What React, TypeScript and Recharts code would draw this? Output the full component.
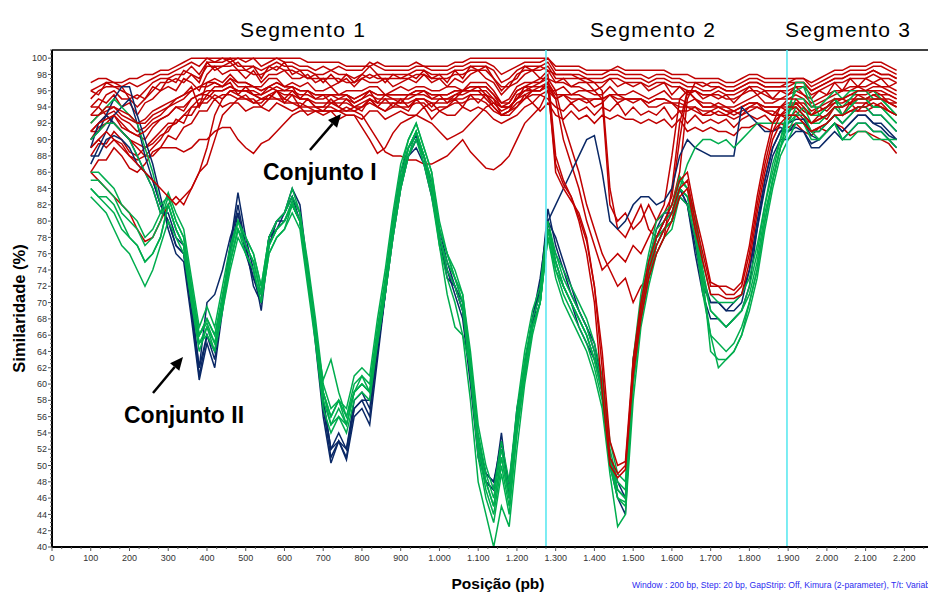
import React from 'react';
import { LineChart, Line, XAxis, YAxis, ReferenceLine } from 'recharts';

// Sequence positions (bp), window step 20
const POS = [
  100, 120, 140, 160, 180, 200, 220, 240, 260, 280,
  300, 320, 340, 360, 380, 400, 420, 440, 460, 480,
  500, 520, 540, 560, 580, 600, 620, 640, 660, 680,
  700, 720, 740, 760, 780, 800, 820, 840, 860, 880,
  900, 920, 940, 960, 980, 1000, 1020, 1040, 1060, 1080,
  1100, 1120, 1140, 1160, 1180, 1200, 1220, 1240, 1260, 1280,
  1300, 1320, 1340, 1360, 1380, 1400, 1420, 1440, 1460, 1480,
  1500, 1520, 1540, 1560, 1580, 1600, 1620, 1640, 1660, 1680,
  1700, 1720, 1740, 1760, 1780, 1800, 1820, 1840, 1860, 1880,
  1900, 1920, 1940, 1960, 1980, 2000, 2020, 2040, 2060, 2080,
  2100, 2120, 2140, 2160, 2180,
];

// ---- Conjunto I (red) ----
const R1 = [
  97, 97.5, 97.5, 97, 97, 97.5, 97.5, 98, 98, 98.5,
  98.5, 99, 99.5, 100, 100, 100, 100, 100, 100, 100,
  100, 100, 100, 100, 100, 100, 100, 100, 99.5, 99.5,
  99.5, 99.5, 99.5, 99, 99, 99, 99, 99.5, 99, 99,
  99, 99, 99.5, 99, 99, 99, 99, 99.5, 99.5, 100,
  100, 100, 100, 100, 100, 100, 100, 100, 100, 100,
  99, 99, 99, 99, 98.5, 98.5, 98.5, 98.5, 99, 98.5,
  98.5, 98.5, 98.5, 98.5, 98.5, 98, 98, 98, 97.5, 97.5,
  97.5, 97.5, 97, 97, 97.5, 98, 98, 97.5, 97.5, 97.5,
  97.5, 97.5, 97.5, 97, 97.5, 98, 98.5, 98.5, 99, 99,
  99, 99.5, 99.5, 99, 98.5,
];
const R2 = [
  95, 96, 96.5, 96.5, 96, 95.5, 95, 96, 97, 97.5,
  97.5, 98, 98, 99, 98, 99.5, 99.5, 99.5, 100, 99,
  99, 99, 98.5, 99, 99.5, 99, 99, 98.5, 98.5, 98,
  98, 98.5, 98, 98, 97.5, 98, 99, 98, 98, 98,
  98, 98, 98.5, 98.5, 98, 98, 98, 98.5, 98.5, 99,
  99, 99, 98.5, 97, 97.5, 98.5, 99, 99, 99, 99.5,
  98, 98, 98, 98, 97.5, 97.5, 97.5, 98, 98, 97.5,
  97.5, 97.5, 97, 97.5, 97.5, 97, 97, 96.5, 96.5, 96,
  96, 96.5, 96, 96, 96.5, 97, 97, 96.5, 96.5, 96.5,
  96.5, 97, 97, 96, 96.5, 97, 97.5, 97.5, 98, 98,
  98, 98.5, 98, 98, 97.5,
];
const R3 = [
  94, 95, 94.5, 95.5, 94, 94.5, 93, 94.5, 95, 96,
  96.5, 96, 97.5, 97, 96, 98, 99, 98, 98.5, 98.5,
  97.5, 98.5, 97, 98, 98, 98.5, 97.5, 97.5, 98, 97,
  97.5, 96.5, 97, 97.5, 96.5, 97.5, 97, 97, 97.5, 96.5,
  97, 97.5, 97, 98, 97, 97.5, 96.5, 97.5, 97, 98,
  98.5, 97.5, 97, 95.5, 96.5, 97, 98, 98.5, 97.5, 98.5,
  97, 97.5, 96.5, 97, 97, 96, 96.5, 97.5, 96.5, 97,
  96.5, 97, 96, 96.5, 97, 95.5, 96.5, 95.5, 96, 95,
  95.5, 95, 95.5, 94.5, 95.5, 96.5, 95.5, 96, 95, 96,
  95.5, 96.5, 95.5, 95, 96, 95.5, 97, 96, 97.5, 96.5,
  97.5, 97, 97.5, 96.5, 97,
];
const R4 = [
  92, 93, 93.5, 94, 93, 92.5, 92, 92.5, 93.5, 94,
  94.5, 95, 95.5, 96.5, 94, 97, 97.5, 97, 98, 97,
  97, 96.5, 96.5, 97.5, 97.5, 96.5, 97, 96.5, 97, 96,
  96, 96.5, 95.5, 96, 96, 96, 96.5, 96.5, 95.5, 96,
  96.5, 96, 96.5, 96.5, 96, 96, 96.5, 96.5, 96, 97,
  97, 97, 96, 94.5, 95, 96.5, 97, 97, 97.5, 97.5,
  96, 96.5, 95.5, 96, 96, 95.5, 95.5, 96.5, 95.5, 95.5,
  96, 95.5, 95, 95.5, 96, 95, 95, 94.5, 95, 94,
  94, 94.5, 94, 94, 94.5, 95, 95.5, 94.5, 94.5, 95,
  95, 95.5, 95, 94, 94.5, 95, 95.5, 96, 96, 96.5,
  96, 96.5, 96.5, 96, 95.5,
];
const R5 = [
  90, 91.5, 92, 93, 91.5, 91, 90.5, 90, 91.5, 92.5,
  93, 94, 93.5, 95, 95.5, 95.5, 96.5, 96.5, 97, 95.5,
  96.5, 95.5, 95.5, 96.5, 96, 96, 96.5, 95, 96, 95,
  95.5, 94.5, 95, 95.5, 94.5, 95, 96, 94.5, 95.5, 95,
  94.5, 95.5, 95.5, 96, 95, 95.5, 94.5, 95.5, 96, 96,
  96.5, 95.5, 95, 94, 94, 95, 96.5, 96, 96.5, 96.5,
  95, 95.5, 94.5, 95, 95, 94, 94.5, 95.5, 94.5, 95,
  94.5, 95, 94, 94, 94.5, 94.5, 93.5, 93.5, 94, 93,
  93.5, 93, 93, 93.5, 93, 94, 94.5, 93.5, 93, 94,
  93.5, 94.5, 93.5, 93, 94, 93.5, 94.5, 95, 94.5, 95.5,
  95, 95.5, 95.5, 94.5, 94.5,
];
const R6 = [
  88, 89.5, 89.5, 91, 90, 88.5, 88, 89, 89.5, 90.5,
  91, 92.5, 92, 94, 94, 95.5, 95, 95.5, 95.5, 95,
  95.5, 94.5, 95, 95, 96, 94.5, 95.5, 94, 95, 94,
  93.5, 94.5, 94, 93.5, 94, 93.5, 95, 94, 93.5, 94.5,
  94, 93.5, 95, 94, 94.5, 93.5, 94, 95, 94, 95.5,
  94.5, 95.5, 94, 93, 93.5, 94, 95.5, 94.5, 95.5, 95,
  94, 93.5, 94.5, 93.5, 94, 93, 94, 93.5, 94.5, 93,
  94, 93, 93.5, 93, 94, 92.5, 93.5, 92, 93, 92,
  92.5, 92, 92.5, 91.5, 92.5, 93, 92.5, 93, 92, 93,
  92.5, 93.5, 92.5, 92, 93, 92.5, 94, 93, 94.5, 93.5,
  94.5, 94, 94.5, 93.5, 93,
];
const R7 = [
  86, 87.5, 87.5, 89, 88, 86.5, 86, 87, 88.5, 89,
  90.5, 90, 91.5, 92, 93.5, 93.5, 95, 94, 94.5, 94.5,
  93.5, 94, 94, 93.5, 94.5, 94, 93.5, 94, 93, 93.5,
  93, 93.5, 92.5, 93, 93, 92.5, 93.5, 93.5, 92.5, 93,
  93.5, 93, 93, 94, 92.5, 93.5, 93, 93, 94, 93.5,
  94, 93.5, 92.5, 92, 92.5, 93, 94, 94.5, 93.5, 94.5,
  93, 92.5, 93.5, 92.5, 93, 92, 93, 92.5, 93, 92.5,
  92.5, 92, 92.5, 92, 92.5, 91.5, 92.5, 91, 91.5, 91,
  91.5, 91, 91, 90.5, 91.5, 91.5, 92, 91.5, 91, 92,
  91.5, 92, 91, 90.5, 91.5, 91, 92, 91.5, 90.5, 91,
  91, 90.5, 90, 89.5, 88.3,
];
const R8 = [
  86, 85, 84, 83, 82, 81, 79, 77.5, 78, 80,
  82, 83, 82, 84, 86, 87, 90, 93, 94, 95,
  95, 95, 94, 95, 96, 95, 96, 95, 95, 94,
  94, 95, 94, 95, 94, 94, 95, 94, 95, 94,
  95, 94, 95, 95, 94, 95, 95, 95, 96, 96,
  96, 95, 94, 93, 93, 94, 95, 96, 96, 97,
  95, 95.5, 95, 95, 94.5, 95, 95, 95.5, 95, 95,
  95, 95, 94.5, 95, 95, 94.5, 94, 94, 93.5, 93,
  93, 93.5, 93, 92.5, 93, 93.5, 94, 93.5, 93, 93,
  93.5, 94, 93, 92, 92.5, 93, 94, 94, 94.5, 94.5,
  94.5, 95, 95, 94.5, 94,
];
const R9 = [
  89, 90, 91, 90, 89, 88, 87, 86, 85, 84,
  83, 82, 83, 84, 86, 89, 93, 95, 96, 96,
  96, 96, 95.5, 96, 96.5, 96, 96, 95.5, 95.5, 95,
  95, 95.5, 95, 95, 94.5, 95, 95.5, 95, 95, 95,
  95, 95, 95.5, 95.5, 95, 95, 95, 95.5, 95.5, 96,
  96, 96, 95, 93, 93.5, 95.5, 96, 96, 96, 96.5,
  87, 84.5, 83, 80.5, 77.5, 72, 62, 51, 49, 50,
  62, 69, 74, 77, 79, 81, 84, 85, 80, 76,
  72, 72, 71, 71, 72, 76, 82, 87, 91, 93,
  94, 94, 93, 92, 92.5, 93, 94, 94, 94.5, 95,
  95, 95, 95, 94.5, 94,
];
const R10 = [
  94, 94, 93, 92, 91, 90, 89, 88, 88, 89,
  89, 89, 88.5, 89, 90, 90, 91, 91.5, 91.5, 90,
  89, 88.3, 89.5, 90, 91, 92, 93, 93.5, 93.5, 93.5,
  93.5, 93.5, 93.5, 93.5, 93.5, 93, 91.5, 90, 88.5, 88,
  88, 87.5, 87.5, 87, 87, 87.5, 88, 89, 90, 88.5,
  87.5, 86.5, 86.3, 87, 88, 90, 92, 93, 94, 96,
  96, 92, 89, 86, 82, 79, 76, 74, 72, 73,
  70, 72, 73, 76, 78, 84, 92, 96, 95, 94,
  94, 94, 93.5, 93, 93.5, 94, 94, 93.5, 93.5, 93,
  93, 93, 92, 91, 91.5, 92, 93, 93, 93.5, 93.5,
  93.5, 94, 94, 93.5, 93,
];
const R11 = [
  91, 91, 92, 92, 91, 90, 89.5, 89, 90, 91,
  92, 92, 93, 94, 95, 95, 96, 96, 96.5, 96,
  96, 95.5, 95, 95, 95, 94.5, 94.5, 94, 94, 93.5,
  93.5, 93.5, 93.5, 93, 93, 91.5, 90, 88.3, 89, 90.8,
  92, 92.5, 93, 92.5, 92, 91, 90, 90.5, 91, 92,
  93, 94, 94.5, 94, 94, 95, 96, 96.5, 97, 97.5,
  97, 97, 96.5, 96.5, 96, 96, 95, 82, 80, 81,
  79, 80, 82, 80, 81, 83, 90, 96, 96, 95.5,
  95.5, 95.5, 95, 95, 95.5, 96, 96, 95.5, 95, 95,
  95.5, 96, 95.5, 94.5, 95, 95.5, 96, 96, 96.5, 96.5,
  96.5, 97, 96.5, 96.5, 96,
];
const R12 = [
  96, 95.5, 97, 96.5, 96.5, 95, 95.5, 95, 96.5, 96,
  97.5, 97, 98.5, 98, 97, 99.5, 98.5, 99, 99, 99.5,
  98.5, 99, 97.5, 99, 98.5, 99.5, 98, 98.5, 97.5, 98,
  97, 98, 97, 98, 97, 98, 97.5, 98, 97, 98,
  97.5, 98, 97.5, 98.5, 97.5, 98, 97, 98.5, 97.5, 99,
  98.5, 99, 97.5, 96, 97, 97.5, 99, 98.5, 99, 98.5,
  98, 98, 98, 97.5, 97.5, 97, 96, 84, 79, 78,
  80, 82, 79, 78, 80, 82, 86, 95, 97, 97,
  96.5, 96.5, 96, 96, 96.5, 97, 97, 96.5, 96.5, 96.5,
  97, 97, 97, 96, 96.5, 97, 97.5, 97.5, 98, 98,
  98, 98.5, 98, 98, 97.5,
];
const R13 = [
  93, 93, 94, 94, 93.5, 93, 92, 92, 93, 93.5,
  94, 95, 95.5, 96, 96.5, 97, 97, 96.5, 97.5, 97,
  97, 96.5, 96, 96.5, 97, 96.5, 96.5, 96, 96, 95.5,
  95.5, 95.5, 95.5, 95.5, 95, 95.5, 96, 95.5, 95.5, 95.5,
  95.5, 95.5, 96, 96, 95.5, 95.5, 95.5, 96, 96, 96.5,
  96.5, 96.5, 95.5, 94, 94.5, 96, 96.5, 97, 97, 98,
  88, 85, 83, 80, 76, 70, 59, 50, 48.5, 49.5,
  61, 68, 73, 76, 78, 80, 83, 84, 79, 75,
  71, 71, 70.5, 70.5, 71, 75, 81, 86, 90, 92,
  93, 93, 92, 91, 91.5, 92, 93, 93, 93.5, 94,
  94, 94.5, 94, 93.5, 93,
];
const R14 = [
  89, 90, 89, 90, 89.5, 88, 87.5, 88, 89, 90,
  91.5, 92, 93, 93, 94.5, 94.5, 95.5, 95, 96, 95.5,
  95, 94.5, 94.5, 95.5, 95, 95, 94.5, 94.5, 94, 94,
  94, 94, 93.5, 94, 93.5, 94, 94.5, 94, 93.5, 94,
  94, 94, 94.5, 94.5, 93.5, 94, 94, 94.5, 94.5, 95,
  95, 94.5, 93.5, 93, 93.5, 94.5, 95, 95.5, 95.5, 96,
  95, 90, 87, 84, 80, 77, 74, 75, 76, 75,
  77, 76, 78, 80, 82, 88, 95, 96, 95, 94.5,
  94.5, 94, 94, 93.5, 94, 94.5, 94.5, 94, 94, 94,
  94, 94.5, 93.5, 93, 93.5, 94, 94.5, 94.5, 95, 95,
  95, 95.5, 95, 95, 94.5,
];
const R15 = [
  91, 92, 92.5, 93, 92, 91, 90.5, 91, 92, 92.5,
  93, 94, 94, 95, 95.5, 96, 96, 96, 96.5, 96,
  96, 95.5, 95, 95.5, 96, 95.5, 95.5, 95, 95, 94.5,
  94.5, 94.5, 94.5, 94.5, 94, 94.5, 95, 94.5, 94.5, 94.5,
  94.5, 94.5, 95, 95, 94.5, 94.5, 94.5, 95, 95, 95.5,
  95.5, 95.5, 94.5, 93.5, 94, 95, 95.5, 96, 96, 97,
  86, 84, 82.5, 81, 78, 72, 64, 53, 50, 50.5,
  63, 70, 75, 78, 80, 82, 85, 86, 81, 77,
  72.5, 72, 72, 71.5, 72.5, 77, 83, 88, 92, 94,
  95, 95, 94, 93, 93.5, 94, 95, 95, 95.5, 96,
  96, 96, 96, 95.5, 95,
];
const R16 = [
  96, 96.5, 97, 97, 96.5, 97, 96.5, 97, 97.5, 98,
  98, 98.5, 99, 99.5, 99, 100, 99.5, 100, 99.5, 100,
  99.5, 100, 99, 99.5, 100, 99.5, 99.5, 99, 99, 98.5,
  99, 98.5, 99, 98.5, 98.5, 98.5, 99.5, 99, 98.5, 98.5,
  98.5, 98.5, 99, 99, 98.5, 98.5, 98.5, 99, 99, 99.5,
  99.5, 99.5, 99, 98, 98.5, 99, 99.5, 99.5, 99.5, 100,
  98.5, 98.5, 98.5, 98.5, 98, 98, 98, 98.5, 98.5, 98,
  98, 98, 97.5, 98, 98, 97.5, 97.5, 97, 97, 96.5,
  97, 97, 96.5, 96.5, 97, 97.5, 97.5, 97, 97, 97,
  97, 97.5, 97.5, 96.5, 97, 97.5, 98, 98, 98.5, 98.5,
  98.5, 99, 99, 98.5, 98,
];
const R17 = [
  91, 92, 93, 93.5, 92.5, 92, 91, 91.5, 92.5, 93,
  94, 94.5, 95, 96, 96.5, 96.5, 97, 96.5, 97.5, 96.5,
  96.5, 96.5, 96, 96.5, 97, 96.5, 96.5, 96, 96, 95.5,
  95.5, 95.5, 95.5, 95.5, 95, 95.5, 96, 95.5, 95.5, 95.5,
  95.5, 95.5, 96, 96, 95.5, 95.5, 95.5, 96, 96, 96.5,
  96.5, 96.5, 95.5, 94.5, 94.5, 96, 96.5, 96.5, 96.5, 97,
  95.5, 95.5, 95.5, 95.5, 95, 95, 95, 95.5, 95.5, 95,
  95, 95, 94.5, 95, 95, 94.5, 94.5, 94, 94, 93.5,
  93.5, 94, 93.5, 93.5, 94, 94.5, 94.5, 94, 94, 94,
  94.5, 94.5, 94.5, 93.5, 94, 94.5, 95, 95, 95.5, 95.5,
  95.5, 96, 95.5, 95.5, 95,
];
const R18 = [
  93, 94, 95.5, 96, 95, 95, 94, 95, 96, 97,
  97, 97.5, 97, 98, 97.5, 99, 99, 99, 99.5, 98.5,
  98.5, 98, 98, 98.5, 99, 98.5, 98.5, 98, 97.5, 97.5,
  97.5, 97.5, 97.5, 97, 97, 97.5, 98, 97.5, 97.5, 97.5,
  97.5, 97.5, 98, 98, 97.5, 97.5, 97.5, 98, 98, 98.5,
  98.5, 98.5, 97.5, 96.5, 96.5, 98, 98.5, 98.5, 98.5, 99,
  97.5, 97.5, 97.5, 97.5, 97, 97, 97, 97.5, 97.5, 97,
  97, 97, 96.5, 97, 97, 96.5, 96.5, 96, 96, 95.5,
  95.5, 96, 95.5, 95.5, 96, 96.5, 96.5, 96, 96, 96,
  96, 96.5, 96.5, 95.5, 96, 96.5, 97, 97, 97.5, 97.5,
  97.5, 98, 97.5, 97.5, 97,
];

// ---- Conjunto II (navy) ----
const N1 = [
  89, 92, 93, 95, 96.5, 96.5, 93, 90, 87, 83,
  79, 76, 75, 68, 60.5, 65, 62, 69, 77, 83.5,
  78, 74, 69, 77, 80, 81, 84, 82, 74, 65,
  56, 50.3, 53, 50.7, 56, 57, 55, 63, 71, 78,
  84, 88, 90, 88, 84, 78, 74, 71, 68, 60,
  51, 48, 47, 54, 46, 56, 61, 67, 72, 81.5,
  77, 74, 71, 69, 67, 64, 59, 50, 46, 44,
  62, 70, 75, 79, 81, 81, 84, 82, 76, 71,
  68, 68, 67, 68, 69, 72, 79, 85, 89, 91,
  91, 91.5, 91, 89.5, 90, 91, 92, 91, 92, 93,
  93, 92, 91.5, 90.5, 90,
];
const N2 = [
  87, 89, 91, 93, 94, 95, 92, 88, 85, 82,
  80, 77, 76, 69, 62, 70, 71, 74, 78, 81,
  76, 73, 71, 78, 80, 81, 83, 80, 74, 66,
  58, 52, 54, 52, 57, 58, 58, 65, 72, 80,
  86, 89, 90.5, 88, 84, 79, 75, 72, 70, 62,
  53, 49, 48, 53, 47, 57, 62, 68, 73, 80,
  78, 75, 72, 69, 67, 65, 60, 51, 47, 46,
  63, 69, 74, 78, 80, 81, 84, 82, 77, 72,
  70, 70, 69, 69, 70, 74, 80, 85, 89, 91,
  92, 92.5, 92.5, 91, 91, 92, 93, 92, 93, 94,
  94, 93, 93, 92, 91,
];
const N3 = [
  88, 88, 90, 90.5, 90, 89, 87, 86, 84, 81,
  81, 78, 77, 70, 62, 66, 63, 70, 76, 81,
  77, 72, 70, 78, 80, 80, 82, 80, 73, 66,
  58, 52, 53, 52, 58, 59, 57, 64, 71, 79,
  85, 88, 89, 87, 83, 78, 73, 72, 69, 62,
  53, 49, 48, 52, 48, 56, 62, 68, 71, 80,
  75, 72, 70, 67, 65, 63, 60, 51, 48, 46,
  61, 68, 73, 77, 79, 80, 83, 82, 78, 73,
  70, 70, 69, 70, 71, 74, 79, 84, 88, 90,
  90, 91, 91, 89, 89, 90, 91, 90, 91, 92,
  92, 91, 91, 90, 89,
];
const N4 = [
  90, 91, 93, 92, 91, 90, 88, 86, 85, 82,
  80, 77, 76, 69, 61, 66, 64, 70, 77, 82,
  77, 73, 70, 78, 79, 81, 83, 81, 74, 67,
  57, 51, 53, 51, 57, 58, 56, 64, 71, 79,
  85, 88, 90, 88, 84, 78, 74, 72, 69, 61,
  52, 48, 47, 53, 46, 56, 62, 68, 72, 80,
  82, 84, 86, 88, 90, 90.5, 86, 80, 79, 80,
  82, 83, 83, 82, 82.5, 84, 88, 90, 89, 88.5,
  88, 88, 88, 88, 94, 93, 92, 91, 91, 91.5,
  91, 92, 92, 90.5, 90, 91, 92, 91, 92, 93,
  93, 92, 92, 91, 90,
];

// ---- Conjunto II (green) ----
const G1 = [
  83, 82, 81, 79, 77, 76, 74, 72, 74, 77,
  80, 78, 76, 70, 65, 66, 64, 69, 74, 78,
  76, 74, 70, 76, 78, 79, 81, 79, 72, 65,
  57, 54, 56, 54, 58, 59, 58, 65, 71, 78,
  84, 88, 90, 87, 84, 77, 73, 70, 66, 58,
  48, 44, 40, 45, 42.5, 52, 60, 66, 70, 78,
  73, 70, 68, 66, 64, 61, 57, 49, 42.5, 44,
  58, 67, 72, 76, 78, 79, 83, 82, 78, 71,
  66, 62, 63, 64, 66, 69, 73, 79, 84, 88,
  90, 92, 92, 90, 90, 91, 92, 90, 91, 92,
  92, 91, 91, 90, 90,
];
const G2 = [
  84, 83, 82, 81, 79, 78, 77, 75, 76, 78,
  82, 79, 77, 71, 66, 67.5, 65, 70, 75, 79,
  77, 75, 71, 77, 79, 80, 82.5, 80, 73, 66,
  58, 55, 57, 55, 59, 61, 59, 66, 72, 79,
  85, 89, 91, 88, 85, 78, 74, 72, 69, 61,
  51, 46, 43, 49, 44, 54, 61, 67, 70, 79,
  74, 71, 69, 67, 65, 62, 58, 50, 46, 45,
  60, 68, 73, 77, 79, 80, 84, 83, 79, 72,
  66, 65, 64, 65, 67, 70, 74, 80, 85, 89,
  91, 93, 93, 91, 91, 92, 93, 92, 93, 94,
  94, 93, 93, 92, 91,
];
const G3 = [
  85, 85, 84, 83, 81, 80, 79, 77, 78, 80,
  83, 80, 78, 72, 66, 68, 66, 71, 76, 80,
  78, 76, 72, 78, 80, 81, 83, 81, 74, 67,
  59, 56, 58, 56, 60, 61, 60, 67, 73, 80,
  86, 90, 92, 89, 86, 79, 76, 73, 71, 63,
  54, 49, 46, 52, 47, 56, 63, 68, 71, 79,
  76, 73, 71, 69, 67, 64, 60, 52, 48, 47,
  62, 70, 75, 79, 80, 81, 85, 84, 80, 74,
  69, 68, 67, 68, 69, 72, 76, 82, 86, 90,
  93, 95, 95, 93, 93, 94, 95, 94, 95, 96,
  96, 95, 95, 94, 93,
];
const G4 = [
  86, 86, 85, 84, 82, 81, 80, 78, 79, 81,
  83.5, 81, 79, 73, 67, 69.5, 67, 72, 77, 80,
  78, 76, 72, 78, 80, 81, 84, 81, 75, 68,
  60, 57, 58, 57, 61, 62, 61, 68, 74, 81,
  87, 90, 92, 89, 86, 80, 76, 74, 71, 64,
  55, 50, 47, 53, 48, 57, 64, 69, 72, 80,
  76, 74, 72, 70, 68, 65, 61, 53, 49, 48,
  63, 71, 76, 80, 81, 82, 85.5, 84, 81, 75,
  71, 70, 70, 70, 71, 73, 77, 82, 87, 90,
  94, 96, 96.5, 94, 94, 95, 96, 95, 96, 96,
  96, 96, 95, 94, 93,
];
const G5 = [
  84, 83, 83, 82, 80, 78, 77, 75, 76, 78,
  82, 79, 77, 70, 64, 67, 64, 69, 75, 79,
  76, 74, 70, 76, 78, 79, 82, 80, 73, 66,
  59, 55, 56, 55, 59, 60, 59, 65, 71, 78,
  84, 88, 91, 88, 84, 78, 75, 73, 70, 62,
  52, 47, 44, 50, 45, 54, 61, 67, 70, 78,
  74, 72, 70, 68, 66, 63, 59, 51, 46, 45.5,
  60, 68, 74, 78, 79, 80, 84, 83, 79, 73,
  64, 63, 63, 64, 66, 70, 74, 80, 85, 89,
  92, 93, 94, 92, 92, 93, 94, 93, 94, 95,
  95, 94, 94, 93, 92,
];
const G6 = [
  92, 93, 94, 95, 94, 93, 92, 89, 86, 82,
  83, 80, 78, 72, 66, 68, 66, 70, 76, 80,
  77, 75, 71, 77, 79, 80, 82, 80, 73, 66,
  60.5, 63, 59, 56, 59, 60, 59, 66, 72, 79,
  85, 89, 91, 88, 85, 79, 76, 73, 70, 62,
  53, 48, 45, 51, 46, 55, 62, 67, 70, 79,
  75, 72, 70, 68, 66, 63, 59, 51, 47, 46,
  61, 69, 74, 78, 79, 80, 84, 83, 79, 73,
  69, 68, 67, 68, 69, 71, 75, 81, 85, 89,
  93, 97, 97, 95, 93, 94, 95, 93, 94, 95,
  95, 94, 94, 93, 92,
];
const G7 = [
  90, 91, 92, 92, 91, 90, 88, 86, 84, 81,
  82, 79, 77, 71, 65, 67, 65, 70, 75, 79,
  77, 75, 71, 77, 79, 80, 82, 80, 73, 66,
  59, 56, 58, 55, 59, 60, 59, 66, 72, 79,
  85, 89, 91, 87, 83, 77, 71, 67, 66, 62,
  53, 48, 45, 51, 46, 55, 62, 67, 70, 79,
  75, 72, 70, 68, 66, 63, 59, 51, 47, 46,
  61, 69, 74, 78, 79, 80, 84, 87, 89, 90,
  90, 89.5, 90, 89, 90, 91, 92, 92, 92, 92,
  92, 94, 93, 91, 90, 91, 92, 90, 90, 91,
  91, 90, 90, 90, 89,
];

// Axis tick labels
const X_LABELS = [0, 100, 200, 300, 400, 500, 600, 700, 800, 900, 1000, 1100, 1200, 1300, 1400, 1500, 1600, 1700, 1800, 1900, 2000, 2100, 2200];
const Y_LABELS = [40, 42, 44, 46, 48, 50, 52, 54, 56, 58, 60, 62, 64, 66, 68, 70, 72, 74, 76, 78, 80, 82, 84, 86, 88, 90, 92, 94, 96, 98, 100];
const SEGMENT_BOUNDS = [1275, 1897];

const RED = '#C00000';
const NAVY = '#0A2866';
const GREEN = '#00AD4E';
const CYAN = '#5CE8F0';
const FONT = '"Liberation Sans", Arial, Helvetica, sans-serif';

const BACK_RED: [string, number[]][] = [
  ['R1', R1], ['R16', R16], ['R2', R2], ['R18', R18], ['R3', R3], ['R4', R4], ['R17', R17], ['R5', R5],
  ['R6', R6], ['R7', R7], ['R8', R8], ['R10', R10], ['R11', R11], ['R12', R12], ['R14', R14],
];
const NAVY_LINES: [string, number[]][] = [['N1', N1], ['N2', N2], ['N3', N3], ['N4', N4]];
const GREEN_LINES: [string, number[]][] = [
  ['G1', G1], ['G2', G2], ['G3', G3], ['G4', G4], ['G5', G5], ['G6', G6], ['G7', G7],
];
const FRONT_RED: [string, number[]][] = [['R9', R9], ['R13', R13], ['R15', R15]];

const ALL = [...BACK_RED, ...NAVY_LINES, ...GREEN_LINES, ...FRONT_RED];

const rows = POS.map((x, i) => {
  const row: Record<string, number> = { x };
  ALL.forEach(([k, arr]) => {
    row[k] = arr[i];
  });
  return row;
});

const xTicks: number[] = [];
for (let v = 0; v <= 2250; v += 25) xTicks.push(v);
const yTicks: number[] = [];
for (let v = 40; v <= 101; v += 0.5) yTicks.push(v);

const fmtX = (v: number) => (v >= 1000 ? `${Math.floor(v / 1000)}.${String(v % 1000).padStart(3, '0')}` : `${v}`);

const YTick = (props: any) => {
  const { x, y, payload } = props;
  const v = payload.value as number;
  const major = Y_LABELS.includes(v);
  return (
    <g>
      <line x1={x - (major ? 4 : 2)} x2={x} y1={y} y2={y} stroke="#555" strokeWidth={1} />
      {major && (
        <text x={x - 5} y={y} dy="0.35em" textAnchor="end" fontSize={9} fill="#333" fontFamily={FONT}>
          {v}
        </text>
      )}
    </g>
  );
};

const XTick = (props: any) => {
  const { x, y, payload } = props;
  const v = payload.value as number;
  const major = X_LABELS.includes(v);
  return (
    <g>
      <line x1={x} x2={x} y1={y} y2={y + (major ? 4 : 2)} stroke="#555" strokeWidth={1} />
      {major && (
        <text x={x} y={y + 14} textAnchor="middle" fontSize={9} fill="#333" fontFamily={FONT}>
          {fmtX(v)}
        </text>
      )}
    </g>
  );
};

const Arrow = ({ x1, y1, x2, y2 }: { x1: number; y1: number; x2: number; y2: number }) => {
  const ang = Math.atan2(y2 - y1, x2 - x1);
  const L = 13;
  const W = 6;
  const bx = x2 - L * Math.cos(ang);
  const by = y2 - L * Math.sin(ang);
  const px = -Math.sin(ang) * W;
  const py = Math.cos(ang) * W;
  return (
    <g>
      <line x1={x1} y1={y1} x2={bx} y2={by} stroke="#000" strokeWidth={2.5} />
      <polygon points={`${x2},${y2} ${bx + px},${by + py} ${bx - px},${by - py}`} fill="#000" />
    </g>
  );
};

export default function App() {
  return (
    <div style={{ position: 'absolute', left: 0, top: 0, width: 928, height: 592, background: '#fff', overflow: 'hidden' }}>
      <LineChart width={928} height={592} data={rows} margin={{ top: 50, right: 0, bottom: 0, left: 0 }}>
        <XAxis
          dataKey="x"
          type="number"
          domain={[0, 2261]}
          ticks={xTicks}
          interval={0}
          tick={<XTick />}
          tickLine={false}
          tickSize={0}
          tickMargin={0}
          axisLine={{ stroke: '#000', strokeWidth: 2 }}
          height={45}
          allowDataOverflow
        />
        <YAxis
          type="number"
          domain={[40, 101]}
          ticks={yTicks}
          interval={0}
          tick={<YTick />}
          tickLine={false}
          tickSize={0}
          tickMargin={0}
          axisLine={{ stroke: '#000', strokeWidth: 2 }}
          width={52}
          allowDataOverflow
        />
        <ReferenceLine y={101} stroke="#000" strokeWidth={1.5} />
        {ALL.map(([k]) => {
          const color = k.startsWith('R') ? RED : k.startsWith('N') ? NAVY : GREEN;
          return (
            <Line
              key={k}
              dataKey={k}
              type="linear"
              stroke={color}
              strokeWidth={1.5}
              dot={false}
              activeDot={false}
              isAnimationActive={false}
            />
          );
        })}
        {SEGMENT_BOUNDS.map((b) => (
          <ReferenceLine key={b} x={b} stroke={CYAN} strokeWidth={1.6} />
        ))}
      </LineChart>
      <svg width={928} height={592} style={{ position: 'absolute', left: 0, top: 0, pointerEvents: 'none' }}>
        <g fontFamily={FONT} fill="#000">
          <text x={240} y={37} fontSize={21} letterSpacing={1.3}>Segmento 1</text>
          <text x={590} y={37} fontSize={21} letterSpacing={1.3}>Segmento 2</text>
          <text x={785} y={37} fontSize={21} letterSpacing={1.3}>Segmento 3</text>
          <text x={263} y={179.5} fontSize={23} fontWeight="bold">Conjunto I</text>
          <text x={124} y={423} fontSize={23} fontWeight="bold">Conjunto II</text>
          <text
            transform="translate(25,308.5) rotate(-90)"
            textAnchor="middle"
            fontSize={16.5}
            fontWeight="bold"
          >
            Similaridade (%)
          </text>
          <text x={498} y={589} textAnchor="middle" fontSize={15.5} fontWeight="bold">Posição (pb)</text>
          <text x={632} y={587.5} fontSize={8.6} fill="#2B2BF0">
            Window : 200 bp, Step: 20 bp, GapStrip: Off, Kimura (2-parameter), T/t: Variable
          </text>
        </g>
        <Arrow x1={310} y1={150} x2={341} y2={114} />
        <Arrow x1={153} y1={393} x2={183} y2={357} />
      </svg>
    </div>
  );
}
